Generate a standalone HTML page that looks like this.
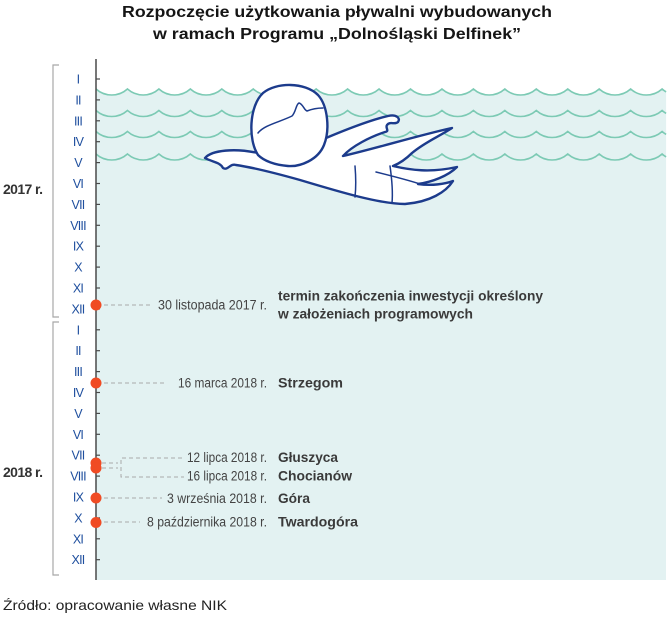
<!DOCTYPE html>
<html>
<head>
<meta charset="utf-8">
<style>
  html, body { margin: 0; padding: 0; background: #ffffff; }
  svg { display: block; }
  .ttl { font-family: "Liberation Sans", sans-serif; font-weight: bold; font-size: 16px; fill: #151515; }
  .mon { font-family: "Liberation Sans", sans-serif; font-size: 12.5px; fill: #1f4f9e; letter-spacing: -0.8px; }
  .yr { font-family: "Liberation Sans", sans-serif; font-weight: bold; font-size: 14px; fill: #333333; letter-spacing: -0.6px; }
  .dt { font-family: "Liberation Sans", sans-serif; font-size: 13.5px; fill: #444444; }
  .nm { font-family: "Liberation Sans", sans-serif; font-weight: bold; font-size: 14px; fill: #3a3a3a; }
  .src { font-family: "Liberation Sans", sans-serif; font-size: 14px; fill: #222222; }
</style>
</head>
<body>
<svg width="670" height="621" viewBox="0 0 670 621" xmlns="http://www.w3.org/2000/svg">
  <!-- Title -->
  <text class="ttl" x="337" y="17" text-anchor="middle" textLength="430" lengthAdjust="spacingAndGlyphs">Rozpoczęcie użytkowania pływalni wybudowanych</text>
  <text class="ttl" x="337" y="39" text-anchor="middle" textLength="368" lengthAdjust="spacingAndGlyphs">w ramach Programu „Dolnośląski Delfinek”</text>

  <!-- water fill -->
  <path fill="#e3f2f2" d="M96,89
    a23.6,23.6 0 0 0 31.45,0 a23.6,23.6 0 0 0 31.45,0 a23.6,23.6 0 0 0 31.45,0 a23.6,23.6 0 0 0 31.45,0
    a23.6,23.6 0 0 0 31.45,0 a23.6,23.6 0 0 0 31.45,0 a23.6,23.6 0 0 0 31.45,0 a23.6,23.6 0 0 0 31.45,0
    a23.6,23.6 0 0 0 31.45,0 a23.6,23.6 0 0 0 31.45,0 a23.6,23.6 0 0 0 31.45,0 a23.6,23.6 0 0 0 31.45,0
    a23.6,23.6 0 0 0 31.45,0 a23.6,23.6 0 0 0 31.45,0 a23.6,23.6 0 0 0 31.45,0 a23.6,23.6 0 0 0 31.45,0
    a23.6,23.6 0 0 0 31.45,0 a23.6,23.6 0 0 0 31.45,0 a23.6,23.6 0 0 0 4,2.88
    L666,580 L96,580 Z"/>

  <!-- waves -->
  <g fill="none" stroke="#7ccab4" stroke-width="1.6">
    <path id="w1" d="M96,89
    a23.6,23.6 0 0 0 31.45,0 a23.6,23.6 0 0 0 31.45,0 a23.6,23.6 0 0 0 31.45,0 a23.6,23.6 0 0 0 31.45,0
    a23.6,23.6 0 0 0 31.45,0 a23.6,23.6 0 0 0 31.45,0 a23.6,23.6 0 0 0 31.45,0 a23.6,23.6 0 0 0 31.45,0
    a23.6,23.6 0 0 0 31.45,0 a23.6,23.6 0 0 0 31.45,0 a23.6,23.6 0 0 0 31.45,0 a23.6,23.6 0 0 0 31.45,0
    a23.6,23.6 0 0 0 31.45,0 a23.6,23.6 0 0 0 31.45,0 a23.6,23.6 0 0 0 31.45,0 a23.6,23.6 0 0 0 31.45,0
    a23.6,23.6 0 0 0 31.45,0 a23.6,23.6 0 0 0 31.45,0 a23.6,23.6 0 0 0 4,2.88"/>
    <use href="#w1" transform="translate(0,21.5)"/>
    <use href="#w1" transform="translate(0,42.5)"/>
    <use href="#w1" transform="translate(0,65)"/>
  </g>

  <!-- swimmer -->
  <g stroke="#1c3b8c" stroke-width="2.4" stroke-linejoin="round" stroke-linecap="round">
    <path fill="#ffffff" d="M205,158
      C212,150 235,148 258,153
      L326,138
      C345,130 370,120 388,116
      C396,114 401,118 398,122
      C395,125 390,121 387,125
      C385,128 390,131 385,132
      C370,137 352,146 343,156
      C370,150 420,135 452,128
      C440,136 425,142 412,153
      C405,160 398,164 393,166
      C410,170 430,173 457,167
      C448,176 432,182 418,184
      C432,186 445,184 453,181
      C446,192 430,202 405,204
      C380,204 340,192 300,180
      C275,173 250,167 236,165
      C230,163 228,171 223,168
      C220,162 212,162 205,158 Z"/>
    <path fill="#ffffff" d="M258,155 C248,140 249,106 263,93 C276,82 305,82 318,95 C328,106 330,130 324,145 C318,160 300,167 288,166 C275,165 264,161 258,155 Z"/>
  </g>
  <g fill="none" stroke="#1c3b8c" stroke-width="1.5" stroke-linecap="round">
    <path d="M258,133 C264,125 280,122 292,116 C296,112 296,104 299,103 C303,104 304,110 307,111 C312,109 318,108 323,108"/>
    <path d="M355,166 C356,178 356,188 355,197"/>
    <path d="M390,166 C392,180 393,192 392,203"/>
    <path d="M376,172 C392,176 408,180 420,184"/>
  </g>

  <!-- brackets -->
  <g fill="none" stroke="#a8a8a8" stroke-width="1.2">
    <path d="M59,65 L53,65 L53,317 L59,317"/>
    <path d="M59,322 L53,322 L53,575 L59,575"/>
  </g>
  <text class="yr" x="3" y="194">2017 r.</text>
  <text class="yr" x="3" y="477">2018 r.</text>

  <!-- axis -->
  <line x1="96" y1="59" x2="96" y2="580" stroke="#4a4a4a" stroke-width="1.5"/>
  <g stroke="#4a4a4a" stroke-width="1.2">
    <line x1="96" y1="79" x2="100" y2="79"/>
    <line x1="96" y1="99.9" x2="100" y2="99.9"/>
    <line x1="96" y1="120.8" x2="100" y2="120.8"/>
    <line x1="96" y1="141.7" x2="100" y2="141.7"/>
    <line x1="96" y1="162.6" x2="100" y2="162.6"/>
    <line x1="96" y1="183.5" x2="100" y2="183.5"/>
    <line x1="96" y1="204.4" x2="100" y2="204.4"/>
    <line x1="96" y1="225.3" x2="100" y2="225.3"/>
    <line x1="96" y1="246.2" x2="100" y2="246.2"/>
    <line x1="96" y1="267.1" x2="100" y2="267.1"/>
    <line x1="96" y1="288" x2="100" y2="288"/>
    <line x1="96" y1="308.9" x2="100" y2="308.9"/>
    <line x1="96" y1="329.8" x2="100" y2="329.8"/>
    <line x1="96" y1="350.7" x2="100" y2="350.7"/>
    <line x1="96" y1="371.6" x2="100" y2="371.6"/>
    <line x1="96" y1="392.5" x2="100" y2="392.5"/>
    <line x1="96" y1="413.4" x2="100" y2="413.4"/>
    <line x1="96" y1="434.3" x2="100" y2="434.3"/>
    <line x1="96" y1="455.2" x2="100" y2="455.2"/>
    <line x1="96" y1="476.1" x2="100" y2="476.1"/>
    <line x1="96" y1="497" x2="100" y2="497"/>
    <line x1="96" y1="517.9" x2="100" y2="517.9"/>
    <line x1="96" y1="538.8" x2="100" y2="538.8"/>
    <line x1="96" y1="559.7" x2="100" y2="559.7"/>
  </g>

  <!-- month labels -->
  <g class="mon" text-anchor="middle">
    <text x="78" y="83.5">I</text>
    <text x="78" y="104.4">II</text>
    <text x="78" y="125.3">III</text>
    <text x="78" y="146.2">IV</text>
    <text x="78" y="167.1">V</text>
    <text x="78" y="188">VI</text>
    <text x="78" y="208.9">VII</text>
    <text x="78" y="229.8">VIII</text>
    <text x="78" y="250.7">IX</text>
    <text x="78" y="271.6">X</text>
    <text x="78" y="292.5">XI</text>
    <text x="78" y="313.4">XII</text>
    <text x="78" y="334.3">I</text>
    <text x="78" y="355.2">II</text>
    <text x="78" y="376.1">III</text>
    <text x="78" y="397">IV</text>
    <text x="78" y="417.9">V</text>
    <text x="78" y="438.8">VI</text>
    <text x="78" y="459.7">VII</text>
    <text x="78" y="480.6">VIII</text>
    <text x="78" y="501.5">IX</text>
    <text x="78" y="522.4">X</text>
    <text x="78" y="543.3">XI</text>
    <text x="78" y="564.2">XII</text>
  </g>

  <!-- dashed connectors -->
  <g fill="none" stroke="#aaaaaa" stroke-width="1" stroke-dasharray="4 3">
    <line x1="104" y1="305" x2="153" y2="305"/>
    <line x1="104" y1="383" x2="167" y2="383"/>
    <line x1="102" y1="463" x2="118" y2="463"/>
    <line x1="102" y1="468" x2="118" y2="468"/>
    <path d="M182,458 L121,458 L121,477 L184,477"/>
    <line x1="104" y1="498" x2="162" y2="498"/>
    <line x1="104" y1="522" x2="140" y2="522"/>
  </g>

  <!-- dots -->
  <g fill="#f04b23">
    <circle cx="96" cy="305" r="5.5"/>
    <circle cx="96" cy="383" r="5.5"/>
    <circle cx="96" cy="463" r="5.5"/>
    <circle cx="96" cy="468" r="5.5"/>
    <circle cx="96" cy="498" r="5.5"/>
    <circle cx="96" cy="522.5" r="5.5"/>
  </g>

  <!-- dates -->
  <g class="dt" text-anchor="end">
    <text x="267" y="309.5" textLength="109" lengthAdjust="spacingAndGlyphs">30 listopada 2017 r.</text>
    <text x="267" y="387.5" textLength="89" lengthAdjust="spacingAndGlyphs">16 marca 2018 r.</text>
    <text x="267" y="462" textLength="80" lengthAdjust="spacingAndGlyphs">12 lipca 2018 r.</text>
    <text x="267" y="480.5" textLength="80" lengthAdjust="spacingAndGlyphs">16 lipca 2018 r.</text>
    <text x="267" y="503" textLength="100" lengthAdjust="spacingAndGlyphs">3 września 2018 r.</text>
    <text x="267" y="526.5" textLength="120" lengthAdjust="spacingAndGlyphs">8 października 2018 r.</text>
  </g>

  <!-- names -->
  <g class="nm">
    <text x="278" y="300.5" textLength="265" lengthAdjust="spacingAndGlyphs">termin zakończenia inwestycji określony</text>
    <text x="278" y="318.5" textLength="195" lengthAdjust="spacingAndGlyphs">w założeniach programowych</text>
    <text x="278" y="387.5" textLength="65" lengthAdjust="spacingAndGlyphs">Strzegom</text>
    <text x="278" y="462" textLength="60" lengthAdjust="spacingAndGlyphs">Głuszyca</text>
    <text x="278" y="480.5" textLength="74" lengthAdjust="spacingAndGlyphs">Chocianów</text>
    <text x="278" y="503" textLength="32" lengthAdjust="spacingAndGlyphs">Góra</text>
    <text x="278" y="526.5" textLength="80" lengthAdjust="spacingAndGlyphs">Twardogóra</text>
  </g>

  <!-- source -->
  <text class="src" x="3" y="610" textLength="224" lengthAdjust="spacingAndGlyphs">Źródło: opracowanie własne NIK</text>
</svg>
</body>
</html>
